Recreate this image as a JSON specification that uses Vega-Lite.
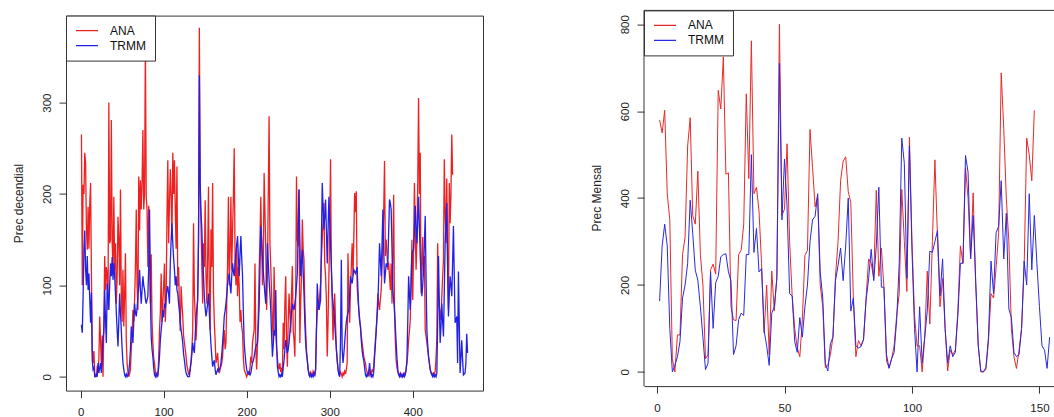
{
"$schema": "https://vega.github.io/schema/vega-lite/v6.json",
"background": "white",
"padding": {"left": 12, "top": 9.6, "right": 0, "bottom": 0},
"spacing": 106,
"config": {
  "font": "Liberation Sans",
  "view": {"stroke": "#333333", "strokeWidth": 1},
  "axis": {"grid": false, "domain": false, "ticks": true, "tickSize": 7, "tickColor": "#333333", "labelFontSize": 11.5, "labelColor": "#222222", "labelFont": "Liberation Sans", "titleFont": "Liberation Sans", "titleFontSize": 12, "titleFontWeight": "normal", "titleColor": "#222222"},
  "axisX": {"labelPadding": 9, "labelBaseline": "top"},
  "axisY": {"labelAngle": 270, "labelAlign": "center", "labelBaseline": "alphabetic", "labelPadding": 8.6, "titleAngle": 270, "titleAlign": "center", "titleBaseline": "alphabetic", "titleX": -43.5},
  "legend": {"orient": "top-left", "offset": 0, "padding": 9, "strokeColor": "#333333", "fillColor": "white", "symbolType": "stroke", "symbolSize": 484, "symbolStrokeWidth": 1.2, "clipHeight": 12, "labelFontSize": 12, "labelOffset": 11, "rowPadding": 3, "labelColor": "#111111", "labelFont": "Liberation Sans", "cornerRadius": 0}
},
"resolve": {"scale": {"color": "independent"}, "legend": {"color": "independent"}},
"datasets": {
"decendial": [
{"i":1,"serie":"ANA","prec":265},{"i":2,"serie":"ANA","prec":100},{"i":3,"serie":"ANA","prec":210},{"i":4,"serie":"ANA","prec":200},{"i":5,"serie":"ANA","prec":245},{"i":6,"serie":"ANA","prec":234},{"i":7,"serie":"ANA","prec":160},{"i":8,"serie":"ANA","prec":139},{"i":9,"serie":"ANA","prec":186},{"i":10,"serie":"ANA","prec":140},
{"i":11,"serie":"ANA","prec":188},{"i":12,"serie":"ANA","prec":212},{"i":13,"serie":"ANA","prec":113},{"i":14,"serie":"ANA","prec":30},{"i":15,"serie":"ANA","prec":15},{"i":16,"serie":"ANA","prec":28},{"i":17,"serie":"ANA","prec":5},{"i":18,"serie":"ANA","prec":0},{"i":19,"serie":"ANA","prec":0},{"i":20,"serie":"ANA","prec":12},
{"i":21,"serie":"ANA","prec":5},{"i":22,"serie":"ANA","prec":20},{"i":23,"serie":"ANA","prec":66},{"i":24,"serie":"ANA","prec":40},{"i":25,"serie":"ANA","prec":10},{"i":26,"serie":"ANA","prec":45},{"i":27,"serie":"ANA","prec":0},{"i":28,"serie":"ANA","prec":60},{"i":29,"serie":"ANA","prec":132},{"i":30,"serie":"ANA","prec":95},
{"i":31,"serie":"ANA","prec":120},{"i":32,"serie":"ANA","prec":113},{"i":33,"serie":"ANA","prec":73},{"i":34,"serie":"ANA","prec":300},{"i":35,"serie":"ANA","prec":146},{"i":36,"serie":"ANA","prec":150},{"i":37,"serie":"ANA","prec":281},{"i":38,"serie":"ANA","prec":146},{"i":39,"serie":"ANA","prec":120},{"i":40,"serie":"ANA","prec":197},
{"i":41,"serie":"ANA","prec":117},{"i":42,"serie":"ANA","prec":146},{"i":43,"serie":"ANA","prec":80},{"i":44,"serie":"ANA","prec":110},{"i":45,"serie":"ANA","prec":175},{"i":46,"serie":"ANA","prec":150},{"i":47,"serie":"ANA","prec":100},{"i":48,"serie":"ANA","prec":205},{"i":49,"serie":"ANA","prec":88},{"i":50,"serie":"ANA","prec":60},
{"i":51,"serie":"ANA","prec":117},{"i":52,"serie":"ANA","prec":55},{"i":53,"serie":"ANA","prec":90},{"i":54,"serie":"ANA","prec":135},{"i":55,"serie":"ANA","prec":40},{"i":56,"serie":"ANA","prec":15},{"i":57,"serie":"ANA","prec":5},{"i":58,"serie":"ANA","prec":0},{"i":59,"serie":"ANA","prec":3},{"i":60,"serie":"ANA","prec":8},
{"i":61,"serie":"ANA","prec":30},{"i":62,"serie":"ANA","prec":45},{"i":63,"serie":"ANA","prec":73},{"i":64,"serie":"ANA","prec":60},{"i":65,"serie":"ANA","prec":84},{"i":66,"serie":"ANA","prec":120},{"i":67,"serie":"ANA","prec":183},{"i":68,"serie":"ANA","prec":100},{"i":69,"serie":"ANA","prec":73},{"i":70,"serie":"ANA","prec":219},
{"i":71,"serie":"ANA","prec":160},{"i":72,"serie":"ANA","prec":215},{"i":73,"serie":"ANA","prec":183},{"i":74,"serie":"ANA","prec":212},{"i":75,"serie":"ANA","prec":270},{"i":76,"serie":"ANA","prec":183},{"i":77,"serie":"ANA","prec":200},{"i":78,"serie":"ANA","prec":365},{"i":79,"serie":"ANA","prec":198},{"i":80,"serie":"ANA","prec":183},
{"i":81,"serie":"ANA","prec":120},{"i":82,"serie":"ANA","prec":187},{"i":83,"serie":"ANA","prec":146},{"i":84,"serie":"ANA","prec":80},{"i":85,"serie":"ANA","prec":134},{"i":86,"serie":"ANA","prec":60},{"i":87,"serie":"ANA","prec":37},{"i":88,"serie":"ANA","prec":20},{"i":89,"serie":"ANA","prec":15},{"i":90,"serie":"ANA","prec":5},
{"i":91,"serie":"ANA","prec":2},{"i":92,"serie":"ANA","prec":4},{"i":93,"serie":"ANA","prec":0},{"i":94,"serie":"ANA","prec":20},{"i":95,"serie":"ANA","prec":51},{"i":96,"serie":"ANA","prec":70},{"i":97,"serie":"ANA","prec":113},{"i":98,"serie":"ANA","prec":60},{"i":99,"serie":"ANA","prec":80},{"i":100,"serie":"ANA","prec":100},
{"i":101,"serie":"ANA","prec":124},{"i":102,"serie":"ANA","prec":60},{"i":103,"serie":"ANA","prec":84},{"i":104,"serie":"ANA","prec":175},{"i":105,"serie":"ANA","prec":237},{"i":106,"serie":"ANA","prec":146},{"i":107,"serie":"ANA","prec":190},{"i":108,"serie":"ANA","prec":227},{"i":109,"serie":"ANA","prec":197},{"i":110,"serie":"ANA","prec":150},
{"i":111,"serie":"ANA","prec":245},{"i":112,"serie":"ANA","prec":200},{"i":113,"serie":"ANA","prec":237},{"i":114,"serie":"ANA","prec":183},{"i":115,"serie":"ANA","prec":140},{"i":116,"serie":"ANA","prec":230},{"i":117,"serie":"ANA","prec":99},{"i":118,"serie":"ANA","prec":120},{"i":119,"serie":"ANA","prec":73},{"i":120,"serie":"ANA","prec":50},
{"i":121,"serie":"ANA","prec":99},{"i":122,"serie":"ANA","prec":80},{"i":123,"serie":"ANA","prec":66},{"i":124,"serie":"ANA","prec":45},{"i":125,"serie":"ANA","prec":37},{"i":126,"serie":"ANA","prec":30},{"i":127,"serie":"ANA","prec":22},{"i":128,"serie":"ANA","prec":12},{"i":129,"serie":"ANA","prec":8},{"i":130,"serie":"ANA","prec":3},
{"i":131,"serie":"ANA","prec":4},{"i":132,"serie":"ANA","prec":10},{"i":133,"serie":"ANA","prec":18},{"i":134,"serie":"ANA","prec":30},{"i":135,"serie":"ANA","prec":51},{"i":136,"serie":"ANA","prec":168},{"i":137,"serie":"ANA","prec":90},{"i":138,"serie":"ANA","prec":66},{"i":139,"serie":"ANA","prec":40},{"i":140,"serie":"ANA","prec":60},
{"i":141,"serie":"ANA","prec":91},{"i":142,"serie":"ANA","prec":150},{"i":143,"serie":"ANA","prec":382},{"i":144,"serie":"ANA","prec":200},{"i":145,"serie":"ANA","prec":165},{"i":146,"serie":"ANA","prec":120},{"i":147,"serie":"ANA","prec":80},{"i":148,"serie":"ANA","prec":146},{"i":149,"serie":"ANA","prec":120},{"i":150,"serie":"ANA","prec":193},
{"i":151,"serie":"ANA","prec":110},{"i":152,"serie":"ANA","prec":80},{"i":153,"serie":"ANA","prec":130},{"i":154,"serie":"ANA","prec":208},{"i":155,"serie":"ANA","prec":90},{"i":156,"serie":"ANA","prec":51},{"i":157,"serie":"ANA","prec":161},{"i":158,"serie":"ANA","prec":120},{"i":159,"serie":"ANA","prec":212},{"i":160,"serie":"ANA","prec":91},
{"i":161,"serie":"ANA","prec":60},{"i":162,"serie":"ANA","prec":40},{"i":163,"serie":"ANA","prec":15},{"i":164,"serie":"ANA","prec":20},{"i":165,"serie":"ANA","prec":26},{"i":166,"serie":"ANA","prec":10},{"i":167,"serie":"ANA","prec":4},{"i":168,"serie":"ANA","prec":8},{"i":169,"serie":"ANA","prec":11},{"i":170,"serie":"ANA","prec":15},
{"i":171,"serie":"ANA","prec":22},{"i":172,"serie":"ANA","prec":40},{"i":173,"serie":"ANA","prec":51},{"i":174,"serie":"ANA","prec":30},{"i":175,"serie":"ANA","prec":37},{"i":176,"serie":"ANA","prec":80},{"i":177,"serie":"ANA","prec":124},{"i":178,"serie":"ANA","prec":197},{"i":179,"serie":"ANA","prec":100},{"i":180,"serie":"ANA","prec":139},
{"i":181,"serie":"ANA","prec":197},{"i":182,"serie":"ANA","prec":117},{"i":183,"serie":"ANA","prec":160},{"i":184,"serie":"ANA","prec":197},{"i":185,"serie":"ANA","prec":250},{"i":186,"serie":"ANA","prec":131},{"i":187,"serie":"ANA","prec":100},{"i":188,"serie":"ANA","prec":146},{"i":189,"serie":"ANA","prec":88},{"i":190,"serie":"ANA","prec":120},
{"i":191,"serie":"ANA","prec":99},{"i":192,"serie":"ANA","prec":60},{"i":193,"serie":"ANA","prec":73},{"i":194,"serie":"ANA","prec":55},{"i":195,"serie":"ANA","prec":48},{"i":196,"serie":"ANA","prec":20},{"i":197,"serie":"ANA","prec":8},{"i":198,"serie":"ANA","prec":5},{"i":199,"serie":"ANA","prec":3},{"i":200,"serie":"ANA","prec":0},
{"i":201,"serie":"ANA","prec":3},{"i":202,"serie":"ANA","prec":5},{"i":203,"serie":"ANA","prec":2},{"i":204,"serie":"ANA","prec":10},{"i":205,"serie":"ANA","prec":22},{"i":206,"serie":"ANA","prec":15},{"i":207,"serie":"ANA","prec":37},{"i":208,"serie":"ANA","prec":45},{"i":209,"serie":"ANA","prec":51},{"i":210,"serie":"ANA","prec":124},
{"i":211,"serie":"ANA","prec":30},{"i":212,"serie":"ANA","prec":8},{"i":213,"serie":"ANA","prec":37},{"i":214,"serie":"ANA","prec":70},{"i":215,"serie":"ANA","prec":117},{"i":216,"serie":"ANA","prec":150},{"i":217,"serie":"ANA","prec":197},{"i":218,"serie":"ANA","prec":146},{"i":219,"serie":"ANA","prec":100},{"i":220,"serie":"ANA","prec":124},
{"i":221,"serie":"ANA","prec":223},{"i":222,"serie":"ANA","prec":180},{"i":223,"serie":"ANA","prec":139},{"i":224,"serie":"ANA","prec":73},{"i":225,"serie":"ANA","prec":113},{"i":226,"serie":"ANA","prec":200},{"i":227,"serie":"ANA","prec":285},{"i":228,"serie":"ANA","prec":146},{"i":229,"serie":"ANA","prec":120},{"i":230,"serie":"ANA","prec":91},
{"i":231,"serie":"ANA","prec":60},{"i":232,"serie":"ANA","prec":37},{"i":233,"serie":"ANA","prec":120},{"i":234,"serie":"ANA","prec":73},{"i":235,"serie":"ANA","prec":50},{"i":236,"serie":"ANA","prec":30},{"i":237,"serie":"ANA","prec":20},{"i":238,"serie":"ANA","prec":11},{"i":239,"serie":"ANA","prec":8},{"i":240,"serie":"ANA","prec":15},
{"i":241,"serie":"ANA","prec":5},{"i":242,"serie":"ANA","prec":10},{"i":243,"serie":"ANA","prec":2},{"i":244,"serie":"ANA","prec":59},{"i":245,"serie":"ANA","prec":30},{"i":246,"serie":"ANA","prec":80},{"i":247,"serie":"ANA","prec":110},{"i":248,"serie":"ANA","prec":40},{"i":249,"serie":"ANA","prec":11},{"i":250,"serie":"ANA","prec":60},
{"i":251,"serie":"ANA","prec":91},{"i":252,"serie":"ANA","prec":70},{"i":253,"serie":"ANA","prec":48},{"i":254,"serie":"ANA","prec":90},{"i":255,"serie":"ANA","prec":121},{"i":256,"serie":"ANA","prec":51},{"i":257,"serie":"ANA","prec":40},{"i":258,"serie":"ANA","prec":22},{"i":259,"serie":"ANA","prec":88},{"i":260,"serie":"ANA","prec":219},
{"i":261,"serie":"ANA","prec":150},{"i":262,"serie":"ANA","prec":143},{"i":263,"serie":"ANA","prec":205},{"i":264,"serie":"ANA","prec":37},{"i":265,"serie":"ANA","prec":80},{"i":266,"serie":"ANA","prec":110},{"i":267,"serie":"ANA","prec":172},{"i":268,"serie":"ANA","prec":140},{"i":269,"serie":"ANA","prec":128},{"i":270,"serie":"ANA","prec":80},
{"i":271,"serie":"ANA","prec":51},{"i":272,"serie":"ANA","prec":30},{"i":273,"serie":"ANA","prec":18},{"i":274,"serie":"ANA","prec":8},{"i":275,"serie":"ANA","prec":4},{"i":276,"serie":"ANA","prec":2},{"i":277,"serie":"ANA","prec":5},{"i":278,"serie":"ANA","prec":3},{"i":279,"serie":"ANA","prec":0},{"i":280,"serie":"ANA","prec":6},
{"i":281,"serie":"ANA","prec":4},{"i":282,"serie":"ANA","prec":2},{"i":283,"serie":"ANA","prec":8},{"i":284,"serie":"ANA","prec":51},{"i":285,"serie":"ANA","prec":70},{"i":286,"serie":"ANA","prec":84},{"i":287,"serie":"ANA","prec":73},{"i":288,"serie":"ANA","prec":90},{"i":289,"serie":"ANA","prec":102},{"i":290,"serie":"ANA","prec":130},
{"i":291,"serie":"ANA","prec":150},{"i":292,"serie":"ANA","prec":170},{"i":293,"serie":"ANA","prec":190},{"i":294,"serie":"ANA","prec":124},{"i":295,"serie":"ANA","prec":110},{"i":296,"serie":"ANA","prec":84},{"i":297,"serie":"ANA","prec":22},{"i":298,"serie":"ANA","prec":60},{"i":299,"serie":"ANA","prec":110},{"i":300,"serie":"ANA","prec":160},
{"i":301,"serie":"ANA","prec":238},{"i":302,"serie":"ANA","prec":117},{"i":303,"serie":"ANA","prec":80},{"i":304,"serie":"ANA","prec":40},{"i":305,"serie":"ANA","prec":70},{"i":306,"serie":"ANA","prec":91},{"i":307,"serie":"ANA","prec":59},{"i":308,"serie":"ANA","prec":30},{"i":309,"serie":"ANA","prec":18},{"i":310,"serie":"ANA","prec":8},
{"i":311,"serie":"ANA","prec":4},{"i":312,"serie":"ANA","prec":2},{"i":313,"serie":"ANA","prec":5},{"i":314,"serie":"ANA","prec":3},{"i":315,"serie":"ANA","prec":0},{"i":316,"serie":"ANA","prec":4},{"i":317,"serie":"ANA","prec":2},{"i":318,"serie":"ANA","prec":6},{"i":319,"serie":"ANA","prec":3},{"i":320,"serie":"ANA","prec":8},
{"i":321,"serie":"ANA","prec":15},{"i":322,"serie":"ANA","prec":135},{"i":323,"serie":"ANA","prec":90},{"i":324,"serie":"ANA","prec":59},{"i":325,"serie":"ANA","prec":95},{"i":326,"serie":"ANA","prec":120},{"i":327,"serie":"ANA","prec":146},{"i":328,"serie":"ANA","prec":110},{"i":329,"serie":"ANA","prec":150},{"i":330,"serie":"ANA","prec":201},
{"i":331,"serie":"ANA","prec":180},{"i":332,"serie":"ANA","prec":203},{"i":333,"serie":"ANA","prec":99},{"i":334,"serie":"ANA","prec":85},{"i":335,"serie":"ANA","prec":73},{"i":336,"serie":"ANA","prec":60},{"i":337,"serie":"ANA","prec":55},{"i":338,"serie":"ANA","prec":45},{"i":339,"serie":"ANA","prec":37},{"i":340,"serie":"ANA","prec":30},
{"i":341,"serie":"ANA","prec":22},{"i":342,"serie":"ANA","prec":18},{"i":343,"serie":"ANA","prec":15},{"i":344,"serie":"ANA","prec":8},{"i":345,"serie":"ANA","prec":5},{"i":346,"serie":"ANA","prec":3},{"i":347,"serie":"ANA","prec":6},{"i":348,"serie":"ANA","prec":2},{"i":349,"serie":"ANA","prec":5},{"i":350,"serie":"ANA","prec":3},
{"i":351,"serie":"ANA","prec":8},{"i":352,"serie":"ANA","prec":5},{"i":353,"serie":"ANA","prec":12},{"i":354,"serie":"ANA","prec":26},{"i":355,"serie":"ANA","prec":40},{"i":356,"serie":"ANA","prec":51},{"i":357,"serie":"ANA","prec":70},{"i":358,"serie":"ANA","prec":91},{"i":359,"serie":"ANA","prec":80},{"i":360,"serie":"ANA","prec":73},
{"i":361,"serie":"ANA","prec":85},{"i":362,"serie":"ANA","prec":95},{"i":363,"serie":"ANA","prec":120},{"i":364,"serie":"ANA","prec":146},{"i":365,"serie":"ANA","prec":180},{"i":366,"serie":"ANA","prec":236},{"i":367,"serie":"ANA","prec":132},{"i":368,"serie":"ANA","prec":150},{"i":369,"serie":"ANA","prec":135},{"i":370,"serie":"ANA","prec":117},
{"i":371,"serie":"ANA","prec":125},{"i":372,"serie":"ANA","prec":110},{"i":373,"serie":"ANA","prec":95},{"i":374,"serie":"ANA","prec":124},{"i":375,"serie":"ANA","prec":80},{"i":376,"serie":"ANA","prec":130},{"i":377,"serie":"ANA","prec":199},{"i":378,"serie":"ANA","prec":73},{"i":379,"serie":"ANA","prec":40},{"i":380,"serie":"ANA","prec":18},
{"i":381,"serie":"ANA","prec":10},{"i":382,"serie":"ANA","prec":5},{"i":383,"serie":"ANA","prec":3},{"i":384,"serie":"ANA","prec":2},{"i":385,"serie":"ANA","prec":4},{"i":386,"serie":"ANA","prec":1},{"i":387,"serie":"ANA","prec":3},{"i":388,"serie":"ANA","prec":0},{"i":389,"serie":"ANA","prec":2},{"i":390,"serie":"ANA","prec":4},
{"i":391,"serie":"ANA","prec":3},{"i":392,"serie":"ANA","prec":8},{"i":393,"serie":"ANA","prec":15},{"i":394,"serie":"ANA","prec":25},{"i":395,"serie":"ANA","prec":40},{"i":396,"serie":"ANA","prec":50},{"i":397,"serie":"ANA","prec":62},{"i":398,"serie":"ANA","prec":100},{"i":399,"serie":"ANA","prec":150},{"i":400,"serie":"ANA","prec":84},
{"i":401,"serie":"ANA","prec":140},{"i":402,"serie":"ANA","prec":212},{"i":403,"serie":"ANA","prec":160},{"i":404,"serie":"ANA","prec":117},{"i":405,"serie":"ANA","prec":150},{"i":406,"serie":"ANA","prec":212},{"i":407,"serie":"ANA","prec":305},{"i":408,"serie":"ANA","prec":200},{"i":409,"serie":"ANA","prec":245},{"i":410,"serie":"ANA","prec":91},
{"i":411,"serie":"ANA","prec":120},{"i":412,"serie":"ANA","prec":153},{"i":413,"serie":"ANA","prec":110},{"i":414,"serie":"ANA","prec":132},{"i":415,"serie":"ANA","prec":51},{"i":416,"serie":"ANA","prec":45},{"i":417,"serie":"ANA","prec":37},{"i":418,"serie":"ANA","prec":30},{"i":419,"serie":"ANA","prec":22},{"i":420,"serie":"ANA","prec":15},
{"i":421,"serie":"ANA","prec":8},{"i":422,"serie":"ANA","prec":5},{"i":423,"serie":"ANA","prec":4},{"i":424,"serie":"ANA","prec":2},{"i":425,"serie":"ANA","prec":4},{"i":426,"serie":"ANA","prec":3},{"i":427,"serie":"ANA","prec":6},{"i":428,"serie":"ANA","prec":20},{"i":429,"serie":"ANA","prec":40},{"i":430,"serie":"ANA","prec":146},
{"i":431,"serie":"ANA","prec":90},{"i":432,"serie":"ANA","prec":77},{"i":433,"serie":"ANA","prec":70},{"i":434,"serie":"ANA","prec":62},{"i":435,"serie":"ANA","prec":88},{"i":436,"serie":"ANA","prec":110},{"i":437,"serie":"ANA","prec":128},{"i":438,"serie":"ANA","prec":238},{"i":439,"serie":"ANA","prec":180},{"i":440,"serie":"ANA","prec":146},
{"i":441,"serie":"ANA","prec":217},{"i":442,"serie":"ANA","prec":120},{"i":443,"serie":"ANA","prec":73},{"i":444,"serie":"ANA","prec":212},{"i":445,"serie":"ANA","prec":168},{"i":446,"serie":"ANA","prec":200},{"i":447,"serie":"ANA","prec":265},{"i":448,"serie":"ANA","prec":221},
{"i":1,"serie":"TRMM","prec":57},{"i":2,"serie":"TRMM","prec":48},{"i":3,"serie":"TRMM","prec":88},{"i":4,"serie":"TRMM","prec":139},{"i":5,"serie":"TRMM","prec":160},{"i":6,"serie":"TRMM","prec":117},{"i":7,"serie":"TRMM","prec":100},{"i":8,"serie":"TRMM","prec":132},{"i":9,"serie":"TRMM","prec":95},{"i":10,"serie":"TRMM","prec":113},
{"i":11,"serie":"TRMM","prec":85},{"i":12,"serie":"TRMM","prec":59},{"i":13,"serie":"TRMM","prec":92},{"i":14,"serie":"TRMM","prec":18},{"i":15,"serie":"TRMM","prec":8},{"i":16,"serie":"TRMM","prec":10},{"i":17,"serie":"TRMM","prec":0},{"i":18,"serie":"TRMM","prec":0},{"i":19,"serie":"TRMM","prec":2},{"i":20,"serie":"TRMM","prec":0},
{"i":21,"serie":"TRMM","prec":15},{"i":22,"serie":"TRMM","prec":4},{"i":23,"serie":"TRMM","prec":10},{"i":24,"serie":"TRMM","prec":15},{"i":25,"serie":"TRMM","prec":4},{"i":26,"serie":"TRMM","prec":22},{"i":27,"serie":"TRMM","prec":40},{"i":28,"serie":"TRMM","prec":51},{"i":29,"serie":"TRMM","prec":95},{"i":30,"serie":"TRMM","prec":60},
{"i":31,"serie":"TRMM","prec":37},{"i":32,"serie":"TRMM","prec":102},{"i":33,"serie":"TRMM","prec":90},{"i":34,"serie":"TRMM","prec":73},{"i":35,"serie":"TRMM","prec":100},{"i":36,"serie":"TRMM","prec":124},{"i":37,"serie":"TRMM","prec":110},{"i":38,"serie":"TRMM","prec":131},{"i":39,"serie":"TRMM","prec":106},{"i":40,"serie":"TRMM","prec":124},
{"i":41,"serie":"TRMM","prec":110},{"i":42,"serie":"TRMM","prec":91},{"i":43,"serie":"TRMM","prec":70},{"i":44,"serie":"TRMM","prec":51},{"i":45,"serie":"TRMM","prec":33},{"i":46,"serie":"TRMM","prec":60},{"i":47,"serie":"TRMM","prec":91},{"i":48,"serie":"TRMM","prec":70},{"i":49,"serie":"TRMM","prec":51},{"i":50,"serie":"TRMM","prec":30},
{"i":51,"serie":"TRMM","prec":15},{"i":52,"serie":"TRMM","prec":8},{"i":53,"serie":"TRMM","prec":2},{"i":54,"serie":"TRMM","prec":0},{"i":55,"serie":"TRMM","prec":3},{"i":56,"serie":"TRMM","prec":0},{"i":57,"serie":"TRMM","prec":2},{"i":58,"serie":"TRMM","prec":5},{"i":59,"serie":"TRMM","prec":15},{"i":60,"serie":"TRMM","prec":30},
{"i":61,"serie":"TRMM","prec":55},{"i":62,"serie":"TRMM","prec":45},{"i":63,"serie":"TRMM","prec":37},{"i":64,"serie":"TRMM","prec":60},{"i":65,"serie":"TRMM","prec":80},{"i":66,"serie":"TRMM","prec":70},{"i":67,"serie":"TRMM","prec":66},{"i":68,"serie":"TRMM","prec":75},{"i":69,"serie":"TRMM","prec":88},{"i":70,"serie":"TRMM","prec":100},
{"i":71,"serie":"TRMM","prec":117},{"i":72,"serie":"TRMM","prec":95},{"i":73,"serie":"TRMM","prec":80},{"i":74,"serie":"TRMM","prec":95},{"i":75,"serie":"TRMM","prec":110},{"i":76,"serie":"TRMM","prec":100},{"i":77,"serie":"TRMM","prec":95},{"i":78,"serie":"TRMM","prec":85},{"i":79,"serie":"TRMM","prec":80},{"i":80,"serie":"TRMM","prec":84},
{"i":81,"serie":"TRMM","prec":88},{"i":82,"serie":"TRMM","prec":120},{"i":83,"serie":"TRMM","prec":183},{"i":84,"serie":"TRMM","prec":90},{"i":85,"serie":"TRMM","prec":44},{"i":86,"serie":"TRMM","prec":30},{"i":87,"serie":"TRMM","prec":22},{"i":88,"serie":"TRMM","prec":10},{"i":89,"serie":"TRMM","prec":2},{"i":90,"serie":"TRMM","prec":0},
{"i":91,"serie":"TRMM","prec":3},{"i":92,"serie":"TRMM","prec":0},{"i":93,"serie":"TRMM","prec":2},{"i":94,"serie":"TRMM","prec":10},{"i":95,"serie":"TRMM","prec":22},{"i":96,"serie":"TRMM","prec":40},{"i":97,"serie":"TRMM","prec":51},{"i":98,"serie":"TRMM","prec":60},{"i":99,"serie":"TRMM","prec":73},{"i":100,"serie":"TRMM","prec":65},
{"i":101,"serie":"TRMM","prec":80},{"i":102,"serie":"TRMM","prec":75},{"i":103,"serie":"TRMM","prec":88},{"i":104,"serie":"TRMM","prec":95},{"i":105,"serie":"TRMM","prec":99},{"i":106,"serie":"TRMM","prec":90},{"i":107,"serie":"TRMM","prec":80},{"i":108,"serie":"TRMM","prec":124},{"i":109,"serie":"TRMM","prec":150},{"i":110,"serie":"TRMM","prec":168},
{"i":111,"serie":"TRMM","prec":146},{"i":112,"serie":"TRMM","prec":130},{"i":113,"serie":"TRMM","prec":117},{"i":114,"serie":"TRMM","prec":100},{"i":115,"serie":"TRMM","prec":110},{"i":116,"serie":"TRMM","prec":95},{"i":117,"serie":"TRMM","prec":91},{"i":118,"serie":"TRMM","prec":80},{"i":119,"serie":"TRMM","prec":73},{"i":120,"serie":"TRMM","prec":60},
{"i":121,"serie":"TRMM","prec":51},{"i":122,"serie":"TRMM","prec":45},{"i":123,"serie":"TRMM","prec":37},{"i":124,"serie":"TRMM","prec":25},{"i":125,"serie":"TRMM","prec":18},{"i":126,"serie":"TRMM","prec":10},{"i":127,"serie":"TRMM","prec":4},{"i":128,"serie":"TRMM","prec":2},{"i":129,"serie":"TRMM","prec":0},{"i":130,"serie":"TRMM","prec":0},
{"i":131,"serie":"TRMM","prec":0},{"i":132,"serie":"TRMM","prec":8},{"i":133,"serie":"TRMM","prec":15},{"i":134,"serie":"TRMM","prec":25},{"i":135,"serie":"TRMM","prec":37},{"i":136,"serie":"TRMM","prec":30},{"i":137,"serie":"TRMM","prec":26},{"i":138,"serie":"TRMM","prec":45},{"i":139,"serie":"TRMM","prec":66},{"i":140,"serie":"TRMM","prec":75},
{"i":141,"serie":"TRMM","prec":84},{"i":142,"serie":"TRMM","prec":150},{"i":143,"serie":"TRMM","prec":330},{"i":144,"serie":"TRMM","prec":212},{"i":145,"serie":"TRMM","prec":180},{"i":146,"serie":"TRMM","prec":161},{"i":147,"serie":"TRMM","prec":130},{"i":148,"serie":"TRMM","prec":110},{"i":149,"serie":"TRMM","prec":88},{"i":150,"serie":"TRMM","prec":75},
{"i":151,"serie":"TRMM","prec":66},{"i":152,"serie":"TRMM","prec":72},{"i":153,"serie":"TRMM","prec":80},{"i":154,"serie":"TRMM","prec":91},{"i":155,"serie":"TRMM","prec":70},{"i":156,"serie":"TRMM","prec":51},{"i":157,"serie":"TRMM","prec":35},{"i":158,"serie":"TRMM","prec":22},{"i":159,"serie":"TRMM","prec":11},{"i":160,"serie":"TRMM","prec":15},
{"i":161,"serie":"TRMM","prec":18},{"i":162,"serie":"TRMM","prec":8},{"i":163,"serie":"TRMM","prec":2},{"i":164,"serie":"TRMM","prec":5},{"i":165,"serie":"TRMM","prec":8},{"i":166,"serie":"TRMM","prec":6},{"i":167,"serie":"TRMM","prec":8},{"i":168,"serie":"TRMM","prec":10},{"i":169,"serie":"TRMM","prec":15},{"i":170,"serie":"TRMM","prec":25},
{"i":171,"serie":"TRMM","prec":37},{"i":172,"serie":"TRMM","prec":50},{"i":173,"serie":"TRMM","prec":66},{"i":174,"serie":"TRMM","prec":72},{"i":175,"serie":"TRMM","prec":80},{"i":176,"serie":"TRMM","prec":90},{"i":177,"serie":"TRMM","prec":102},{"i":178,"serie":"TRMM","prec":108},{"i":179,"serie":"TRMM","prec":113},{"i":180,"serie":"TRMM","prec":100},
{"i":181,"serie":"TRMM","prec":91},{"i":182,"serie":"TRMM","prec":110},{"i":183,"serie":"TRMM","prec":124},{"i":184,"serie":"TRMM","prec":115},{"i":185,"serie":"TRMM","prec":110},{"i":186,"serie":"TRMM","prec":125},{"i":187,"serie":"TRMM","prec":135},{"i":188,"serie":"TRMM","prec":145},{"i":189,"serie":"TRMM","prec":154},{"i":190,"serie":"TRMM","prec":130},
{"i":191,"serie":"TRMM","prec":110},{"i":192,"serie":"TRMM","prec":135},{"i":193,"serie":"TRMM","prec":154},{"i":194,"serie":"TRMM","prec":130},{"i":195,"serie":"TRMM","prec":110},{"i":196,"serie":"TRMM","prec":70},{"i":197,"serie":"TRMM","prec":37},{"i":198,"serie":"TRMM","prec":25},{"i":199,"serie":"TRMM","prec":15},{"i":200,"serie":"TRMM","prec":8},
{"i":201,"serie":"TRMM","prec":4},{"i":202,"serie":"TRMM","prec":3},{"i":203,"serie":"TRMM","prec":5},{"i":204,"serie":"TRMM","prec":2},{"i":205,"serie":"TRMM","prec":4},{"i":206,"serie":"TRMM","prec":10},{"i":207,"serie":"TRMM","prec":15},{"i":208,"serie":"TRMM","prec":18},{"i":209,"serie":"TRMM","prec":22},{"i":210,"serie":"TRMM","prec":28},
{"i":211,"serie":"TRMM","prec":33},{"i":212,"serie":"TRMM","prec":35},{"i":213,"serie":"TRMM","prec":37},{"i":214,"serie":"TRMM","prec":55},{"i":215,"serie":"TRMM","prec":77},{"i":216,"serie":"TRMM","prec":120},{"i":217,"serie":"TRMM","prec":165},{"i":218,"serie":"TRMM","prec":150},{"i":219,"serie":"TRMM","prec":132},{"i":220,"serie":"TRMM","prec":115},
{"i":221,"serie":"TRMM","prec":102},{"i":222,"serie":"TRMM","prec":90},{"i":223,"serie":"TRMM","prec":80},{"i":224,"serie":"TRMM","prec":110},{"i":225,"serie":"TRMM","prec":146},{"i":226,"serie":"TRMM","prec":125},{"i":227,"serie":"TRMM","prec":106},{"i":228,"serie":"TRMM","prec":90},{"i":229,"serie":"TRMM","prec":73},{"i":230,"serie":"TRMM","prec":45},
{"i":231,"serie":"TRMM","prec":22},{"i":232,"serie":"TRMM","prec":35},{"i":233,"serie":"TRMM","prec":51},{"i":234,"serie":"TRMM","prec":45},{"i":235,"serie":"TRMM","prec":95},{"i":236,"serie":"TRMM","prec":37},{"i":237,"serie":"TRMM","prec":11},{"i":238,"serie":"TRMM","prec":5},{"i":239,"serie":"TRMM","prec":0},{"i":240,"serie":"TRMM","prec":2},
{"i":241,"serie":"TRMM","prec":0},{"i":242,"serie":"TRMM","prec":3},{"i":243,"serie":"TRMM","prec":0},{"i":244,"serie":"TRMM","prec":10},{"i":245,"serie":"TRMM","prec":18},{"i":246,"serie":"TRMM","prec":30},{"i":247,"serie":"TRMM","prec":40},{"i":248,"serie":"TRMM","prec":33},{"i":249,"serie":"TRMM","prec":26},{"i":250,"serie":"TRMM","prec":30},
{"i":251,"serie":"TRMM","prec":37},{"i":252,"serie":"TRMM","prec":48},{"i":253,"serie":"TRMM","prec":59},{"i":254,"serie":"TRMM","prec":70},{"i":255,"serie":"TRMM","prec":80},{"i":256,"serie":"TRMM","prec":76},{"i":257,"serie":"TRMM","prec":73},{"i":258,"serie":"TRMM","prec":80},{"i":259,"serie":"TRMM","prec":88},{"i":260,"serie":"TRMM","prec":100},
{"i":261,"serie":"TRMM","prec":113},{"i":262,"serie":"TRMM","prec":160},{"i":263,"serie":"TRMM","prec":205},{"i":264,"serie":"TRMM","prec":150},{"i":265,"serie":"TRMM","prec":110},{"i":266,"serie":"TRMM","prec":125},{"i":267,"serie":"TRMM","prec":139},{"i":268,"serie":"TRMM","prec":115},{"i":269,"serie":"TRMM","prec":91},{"i":270,"serie":"TRMM","prec":60},
{"i":271,"serie":"TRMM","prec":37},{"i":272,"serie":"TRMM","prec":25},{"i":273,"serie":"TRMM","prec":18},{"i":274,"serie":"TRMM","prec":8},{"i":275,"serie":"TRMM","prec":2},{"i":276,"serie":"TRMM","prec":0},{"i":277,"serie":"TRMM","prec":3},{"i":278,"serie":"TRMM","prec":0},{"i":279,"serie":"TRMM","prec":2},{"i":280,"serie":"TRMM","prec":0},
{"i":281,"serie":"TRMM","prec":4},{"i":282,"serie":"TRMM","prec":2},{"i":283,"serie":"TRMM","prec":8},{"i":284,"serie":"TRMM","prec":50},{"i":285,"serie":"TRMM","prec":102},{"i":286,"serie":"TRMM","prec":85},{"i":287,"serie":"TRMM","prec":73},{"i":288,"serie":"TRMM","prec":78},{"i":289,"serie":"TRMM","prec":84},{"i":290,"serie":"TRMM","prec":150},
{"i":291,"serie":"TRMM","prec":212},{"i":292,"serie":"TRMM","prec":185},{"i":293,"serie":"TRMM","prec":161},{"i":294,"serie":"TRMM","prec":175},{"i":295,"serie":"TRMM","prec":194},{"i":296,"serie":"TRMM","prec":160},{"i":297,"serie":"TRMM","prec":124},{"i":298,"serie":"TRMM","prec":160},{"i":299,"serie":"TRMM","prec":197},{"i":300,"serie":"TRMM","prec":170},
{"i":301,"serie":"TRMM","prec":146},{"i":302,"serie":"TRMM","prec":120},{"i":303,"serie":"TRMM","prec":91},{"i":304,"serie":"TRMM","prec":80},{"i":305,"serie":"TRMM","prec":73},{"i":306,"serie":"TRMM","prec":58},{"i":307,"serie":"TRMM","prec":44},{"i":308,"serie":"TRMM","prec":30},{"i":309,"serie":"TRMM","prec":18},{"i":310,"serie":"TRMM","prec":8},
{"i":311,"serie":"TRMM","prec":2},{"i":312,"serie":"TRMM","prec":0},{"i":313,"serie":"TRMM","prec":40},{"i":314,"serie":"TRMM","prec":128},{"i":315,"serie":"TRMM","prec":30},{"i":316,"serie":"TRMM","prec":15},{"i":317,"serie":"TRMM","prec":25},{"i":318,"serie":"TRMM","prec":37},{"i":319,"serie":"TRMM","prec":50},{"i":320,"serie":"TRMM","prec":60},
{"i":321,"serie":"TRMM","prec":66},{"i":322,"serie":"TRMM","prec":70},{"i":323,"serie":"TRMM","prec":73},{"i":324,"serie":"TRMM","prec":90},{"i":325,"serie":"TRMM","prec":110},{"i":326,"serie":"TRMM","prec":105},{"i":327,"serie":"TRMM","prec":102},{"i":328,"serie":"TRMM","prec":110},{"i":329,"serie":"TRMM","prec":117},{"i":330,"serie":"TRMM","prec":115},
{"i":331,"serie":"TRMM","prec":113},{"i":332,"serie":"TRMM","prec":116},{"i":333,"serie":"TRMM","prec":120},{"i":334,"serie":"TRMM","prec":95},{"i":335,"serie":"TRMM","prec":73},{"i":336,"serie":"TRMM","prec":64},{"i":337,"serie":"TRMM","prec":55},{"i":338,"serie":"TRMM","prec":40},{"i":339,"serie":"TRMM","prec":29},{"i":340,"serie":"TRMM","prec":22},
{"i":341,"serie":"TRMM","prec":18},{"i":342,"serie":"TRMM","prec":10},{"i":343,"serie":"TRMM","prec":2},{"i":344,"serie":"TRMM","prec":0},{"i":345,"serie":"TRMM","prec":3},{"i":346,"serie":"TRMM","prec":0},{"i":347,"serie":"TRMM","prec":5},{"i":348,"serie":"TRMM","prec":15},{"i":349,"serie":"TRMM","prec":4},{"i":350,"serie":"TRMM","prec":0},
{"i":351,"serie":"TRMM","prec":2},{"i":352,"serie":"TRMM","prec":0},{"i":353,"serie":"TRMM","prec":5},{"i":354,"serie":"TRMM","prec":22},{"i":355,"serie":"TRMM","prec":35},{"i":356,"serie":"TRMM","prec":51},{"i":357,"serie":"TRMM","prec":65},{"i":358,"serie":"TRMM","prec":80},{"i":359,"serie":"TRMM","prec":110},{"i":360,"serie":"TRMM","prec":146},
{"i":361,"serie":"TRMM","prec":128},{"i":362,"serie":"TRMM","prec":110},{"i":363,"serie":"TRMM","prec":145},{"i":364,"serie":"TRMM","prec":183},{"i":365,"serie":"TRMM","prec":140},{"i":366,"serie":"TRMM","prec":102},{"i":367,"serie":"TRMM","prec":113},{"i":368,"serie":"TRMM","prec":124},{"i":369,"serie":"TRMM","prec":120},{"i":370,"serie":"TRMM","prec":124},
{"i":371,"serie":"TRMM","prec":160},{"i":372,"serie":"TRMM","prec":194},{"i":373,"serie":"TRMM","prec":190},{"i":374,"serie":"TRMM","prec":183},{"i":375,"serie":"TRMM","prec":140},{"i":376,"serie":"TRMM","prec":95},{"i":377,"serie":"TRMM","prec":84},{"i":378,"serie":"TRMM","prec":73},{"i":379,"serie":"TRMM","prec":55},{"i":380,"serie":"TRMM","prec":37},
{"i":381,"serie":"TRMM","prec":20},{"i":382,"serie":"TRMM","prec":8},{"i":383,"serie":"TRMM","prec":2},{"i":384,"serie":"TRMM","prec":0},{"i":385,"serie":"TRMM","prec":3},{"i":386,"serie":"TRMM","prec":0},{"i":387,"serie":"TRMM","prec":2},{"i":388,"serie":"TRMM","prec":0},{"i":389,"serie":"TRMM","prec":3},{"i":390,"serie":"TRMM","prec":0},
{"i":391,"serie":"TRMM","prec":2},{"i":392,"serie":"TRMM","prec":8},{"i":393,"serie":"TRMM","prec":18},{"i":394,"serie":"TRMM","prec":60},{"i":395,"serie":"TRMM","prec":110},{"i":396,"serie":"TRMM","prec":90},{"i":397,"serie":"TRMM","prec":73},{"i":398,"serie":"TRMM","prec":105},{"i":399,"serie":"TRMM","prec":135},{"i":400,"serie":"TRMM","prec":137},
{"i":401,"serie":"TRMM","prec":139},{"i":402,"serie":"TRMM","prec":160},{"i":403,"serie":"TRMM","prec":187},{"i":404,"serie":"TRMM","prec":165},{"i":405,"serie":"TRMM","prec":146},{"i":406,"serie":"TRMM","prec":170},{"i":407,"serie":"TRMM","prec":197},{"i":408,"serie":"TRMM","prec":165},{"i":409,"serie":"TRMM","prec":132},{"i":410,"serie":"TRMM","prec":110},
{"i":411,"serie":"TRMM","prec":88},{"i":412,"serie":"TRMM","prec":100},{"i":413,"serie":"TRMM","prec":117},{"i":414,"serie":"TRMM","prec":145},{"i":415,"serie":"TRMM","prec":176},{"i":416,"serie":"TRMM","prec":110},{"i":417,"serie":"TRMM","prec":51},{"i":418,"serie":"TRMM","prec":35},{"i":419,"serie":"TRMM","prec":22},{"i":420,"serie":"TRMM","prec":15},
{"i":421,"serie":"TRMM","prec":8},{"i":422,"serie":"TRMM","prec":4},{"i":423,"serie":"TRMM","prec":2},{"i":424,"serie":"TRMM","prec":0},{"i":425,"serie":"TRMM","prec":3},{"i":426,"serie":"TRMM","prec":0},{"i":427,"serie":"TRMM","prec":2},{"i":428,"serie":"TRMM","prec":0},{"i":429,"serie":"TRMM","prec":4},{"i":430,"serie":"TRMM","prec":60},
{"i":431,"serie":"TRMM","prec":132},{"i":432,"serie":"TRMM","prec":80},{"i":433,"serie":"TRMM","prec":37},{"i":434,"serie":"TRMM","prec":55},{"i":435,"serie":"TRMM","prec":80},{"i":436,"serie":"TRMM","prec":60},{"i":437,"serie":"TRMM","prec":44},{"i":438,"serie":"TRMM","prec":95},{"i":439,"serie":"TRMM","prec":146},{"i":440,"serie":"TRMM","prec":170},
{"i":441,"serie":"TRMM","prec":190},{"i":442,"serie":"TRMM","prec":120},{"i":443,"serie":"TRMM","prec":66},{"i":444,"serie":"TRMM","prec":90},{"i":445,"serie":"TRMM","prec":110},{"i":446,"serie":"TRMM","prec":100},{"i":447,"serie":"TRMM","prec":88},{"i":448,"serie":"TRMM","prec":125},{"i":449,"serie":"TRMM","prec":165},{"i":450,"serie":"TRMM","prec":110},
{"i":451,"serie":"TRMM","prec":59},{"i":452,"serie":"TRMM","prec":62},{"i":453,"serie":"TRMM","prec":66},{"i":454,"serie":"TRMM","prec":15},{"i":455,"serie":"TRMM","prec":115},{"i":456,"serie":"TRMM","prec":60},{"i":457,"serie":"TRMM","prec":4},{"i":458,"serie":"TRMM","prec":20},{"i":459,"serie":"TRMM","prec":40},{"i":460,"serie":"TRMM","prec":20},
{"i":461,"serie":"TRMM","prec":2},{"i":462,"serie":"TRMM","prec":3},{"i":463,"serie":"TRMM","prec":4},{"i":464,"serie":"TRMM","prec":15},{"i":465,"serie":"TRMM","prec":47},{"i":466,"serie":"TRMM","prec":26}
],
"mensal": [
{"i":1,"serie":"ANA","prec":580},{"i":2,"serie":"ANA","prec":550},{"i":3,"serie":"ANA","prec":602},{"i":4,"serie":"ANA","prec":410},{"i":5,"serie":"ANA","prec":350},{"i":6,"serie":"ANA","prec":30},{"i":7,"serie":"ANA","prec":0},{"i":8,"serie":"ANA","prec":85},{"i":9,"serie":"ANA","prec":85},{"i":10,"serie":"ANA","prec":270},
{"i":11,"serie":"ANA","prec":310},{"i":12,"serie":"ANA","prec":520},{"i":13,"serie":"ANA","prec":585},{"i":14,"serie":"ANA","prec":360},{"i":15,"serie":"ANA","prec":340},{"i":16,"serie":"ANA","prec":462},{"i":17,"serie":"ANA","prec":270},{"i":18,"serie":"ANA","prec":200},{"i":19,"serie":"ANA","prec":30},{"i":20,"serie":"ANA","prec":40},
{"i":21,"serie":"ANA","prec":235},{"i":22,"serie":"ANA","prec":248},{"i":23,"serie":"ANA","prec":225},{"i":24,"serie":"ANA","prec":648},{"i":25,"serie":"ANA","prec":605},{"i":26,"serie":"ANA","prec":725},{"i":27,"serie":"ANA","prec":455},{"i":28,"serie":"ANA","prec":458},{"i":29,"serie":"ANA","prec":150},{"i":30,"serie":"ANA","prec":120},
{"i":31,"serie":"ANA","prec":118},{"i":32,"serie":"ANA","prec":270},{"i":33,"serie":"ANA","prec":280},{"i":34,"serie":"ANA","prec":340},{"i":35,"serie":"ANA","prec":640},{"i":36,"serie":"ANA","prec":445},{"i":37,"serie":"ANA","prec":762},{"i":38,"serie":"ANA","prec":410},{"i":39,"serie":"ANA","prec":425},{"i":40,"serie":"ANA","prec":370},
{"i":41,"serie":"ANA","prec":250},{"i":42,"serie":"ANA","prec":90},{"i":43,"serie":"ANA","prec":200},{"i":44,"serie":"ANA","prec":40},{"i":45,"serie":"ANA","prec":232},{"i":46,"serie":"ANA","prec":140},{"i":47,"serie":"ANA","prec":220},{"i":48,"serie":"ANA","prec":800},{"i":49,"serie":"ANA","prec":360},{"i":50,"serie":"ANA","prec":375},
{"i":51,"serie":"ANA","prec":525},{"i":52,"serie":"ANA","prec":300},{"i":53,"serie":"ANA","prec":175},{"i":54,"serie":"ANA","prec":100},{"i":55,"serie":"ANA","prec":55},{"i":56,"serie":"ANA","prec":35},{"i":57,"serie":"ANA","prec":120},{"i":58,"serie":"ANA","prec":268},{"i":59,"serie":"ANA","prec":280},{"i":60,"serie":"ANA","prec":558},
{"i":61,"serie":"ANA","prec":470},{"i":62,"serie":"ANA","prec":380},{"i":63,"serie":"ANA","prec":405},{"i":64,"serie":"ANA","prec":200},{"i":65,"serie":"ANA","prec":150},{"i":66,"serie":"ANA","prec":10},{"i":67,"serie":"ANA","prec":15},{"i":68,"serie":"ANA","prec":40},{"i":69,"serie":"ANA","prec":80},{"i":70,"serie":"ANA","prec":220},
{"i":71,"serie":"ANA","prec":300},{"i":72,"serie":"ANA","prec":440},{"i":73,"serie":"ANA","prec":485},{"i":74,"serie":"ANA","prec":495},{"i":75,"serie":"ANA","prec":415},{"i":76,"serie":"ANA","prec":390},{"i":77,"serie":"ANA","prec":170},{"i":78,"serie":"ANA","prec":35},{"i":79,"serie":"ANA","prec":72},{"i":80,"serie":"ANA","prec":60},
{"i":81,"serie":"ANA","prec":75},{"i":82,"serie":"ANA","prec":170},{"i":83,"serie":"ANA","prec":260},{"i":84,"serie":"ANA","prec":250},{"i":85,"serie":"ANA","prec":215},{"i":86,"serie":"ANA","prec":418},{"i":87,"serie":"ANA","prec":220},{"i":88,"serie":"ANA","prec":285},{"i":89,"serie":"ANA","prec":195},{"i":90,"serie":"ANA","prec":25},
{"i":91,"serie":"ANA","prec":10},{"i":92,"serie":"ANA","prec":30},{"i":93,"serie":"ANA","prec":60},{"i":94,"serie":"ANA","prec":130},{"i":95,"serie":"ANA","prec":180},{"i":96,"serie":"ANA","prec":420},{"i":97,"serie":"ANA","prec":300},{"i":98,"serie":"ANA","prec":185},{"i":99,"serie":"ANA","prec":540},{"i":100,"serie":"ANA","prec":300},
{"i":101,"serie":"ANA","prec":130},{"i":102,"serie":"ANA","prec":60},{"i":103,"serie":"ANA","prec":60},{"i":104,"serie":"ANA","prec":0},{"i":105,"serie":"ANA","prec":80},{"i":106,"serie":"ANA","prec":232},{"i":107,"serie":"ANA","prec":110},{"i":108,"serie":"ANA","prec":300},{"i":109,"serie":"ANA","prec":488},{"i":110,"serie":"ANA","prec":310},
{"i":111,"serie":"ANA","prec":150},{"i":112,"serie":"ANA","prec":215},{"i":113,"serie":"ANA","prec":100},{"i":114,"serie":"ANA","prec":2},{"i":115,"serie":"ANA","prec":50},{"i":116,"serie":"ANA","prec":40},{"i":117,"serie":"ANA","prec":50},{"i":118,"serie":"ANA","prec":140},{"i":119,"serie":"ANA","prec":290},{"i":120,"serie":"ANA","prec":250},
{"i":121,"serie":"ANA","prec":470},{"i":122,"serie":"ANA","prec":400},{"i":123,"serie":"ANA","prec":260},{"i":124,"serie":"ANA","prec":412},{"i":125,"serie":"ANA","prec":200},{"i":126,"serie":"ANA","prec":60},{"i":127,"serie":"ANA","prec":0},{"i":128,"serie":"ANA","prec":0},{"i":129,"serie":"ANA","prec":5},{"i":130,"serie":"ANA","prec":70},
{"i":131,"serie":"ANA","prec":180},{"i":132,"serie":"ANA","prec":170},{"i":133,"serie":"ANA","prec":240},{"i":134,"serie":"ANA","prec":320},{"i":135,"serie":"ANA","prec":688},{"i":136,"serie":"ANA","prec":560},{"i":137,"serie":"ANA","prec":400},{"i":138,"serie":"ANA","prec":300},{"i":139,"serie":"ANA","prec":100},{"i":140,"serie":"ANA","prec":35},
{"i":141,"serie":"ANA","prec":8},{"i":142,"serie":"ANA","prec":50},{"i":143,"serie":"ANA","prec":100},{"i":144,"serie":"ANA","prec":240},{"i":145,"serie":"ANA","prec":538},{"i":146,"serie":"ANA","prec":500},{"i":147,"serie":"ANA","prec":440},{"i":148,"serie":"ANA","prec":602},
{"i":1,"serie":"TRMM","prec":163},{"i":2,"serie":"TRMM","prec":290},{"i":3,"serie":"TRMM","prec":340},{"i":4,"serie":"TRMM","prec":290},{"i":5,"serie":"TRMM","prec":100},{"i":6,"serie":"TRMM","prec":0},{"i":7,"serie":"TRMM","prec":15},{"i":8,"serie":"TRMM","prec":35},{"i":9,"serie":"TRMM","prec":70},{"i":10,"serie":"TRMM","prec":170},
{"i":11,"serie":"TRMM","prec":200},{"i":12,"serie":"TRMM","prec":250},{"i":13,"serie":"TRMM","prec":395},{"i":14,"serie":"TRMM","prec":318},{"i":15,"serie":"TRMM","prec":234},{"i":16,"serie":"TRMM","prec":211},{"i":17,"serie":"TRMM","prec":150},{"i":18,"serie":"TRMM","prec":80},{"i":19,"serie":"TRMM","prec":5},{"i":20,"serie":"TRMM","prec":20},
{"i":21,"serie":"TRMM","prec":230},{"i":22,"serie":"TRMM","prec":100},{"i":23,"serie":"TRMM","prec":205},{"i":24,"serie":"TRMM","prec":220},{"i":25,"serie":"TRMM","prec":265},{"i":26,"serie":"TRMM","prec":270},{"i":27,"serie":"TRMM","prec":272},{"i":28,"serie":"TRMM","prec":230},{"i":29,"serie":"TRMM","prec":210},{"i":30,"serie":"TRMM","prec":40},
{"i":31,"serie":"TRMM","prec":60},{"i":32,"serie":"TRMM","prec":120},{"i":33,"serie":"TRMM","prec":135},{"i":34,"serie":"TRMM","prec":130},{"i":35,"serie":"TRMM","prec":270},{"i":36,"serie":"TRMM","prec":270},{"i":37,"serie":"TRMM","prec":500},{"i":38,"serie":"TRMM","prec":275},{"i":39,"serie":"TRMM","prec":330},{"i":40,"serie":"TRMM","prec":230},
{"i":41,"serie":"TRMM","prec":238},{"i":42,"serie":"TRMM","prec":95},{"i":43,"serie":"TRMM","prec":60},{"i":44,"serie":"TRMM","prec":15},{"i":45,"serie":"TRMM","prec":135},{"i":46,"serie":"TRMM","prec":150},{"i":47,"serie":"TRMM","prec":215},{"i":48,"serie":"TRMM","prec":710},{"i":49,"serie":"TRMM","prec":350},{"i":50,"serie":"TRMM","prec":490},
{"i":51,"serie":"TRMM","prec":380},{"i":52,"serie":"TRMM","prec":180},{"i":53,"serie":"TRMM","prec":175},{"i":54,"serie":"TRMM","prec":70},{"i":55,"serie":"TRMM","prec":45},{"i":56,"serie":"TRMM","prec":125},{"i":57,"serie":"TRMM","prec":80},{"i":58,"serie":"TRMM","prec":150},{"i":59,"serie":"TRMM","prec":200},{"i":60,"serie":"TRMM","prec":300},
{"i":61,"serie":"TRMM","prec":350},{"i":62,"serie":"TRMM","prec":358},{"i":63,"serie":"TRMM","prec":410},{"i":64,"serie":"TRMM","prec":230},{"i":65,"serie":"TRMM","prec":170},{"i":66,"serie":"TRMM","prec":20},{"i":67,"serie":"TRMM","prec":2},{"i":68,"serie":"TRMM","prec":65},{"i":69,"serie":"TRMM","prec":80},{"i":70,"serie":"TRMM","prec":210},
{"i":71,"serie":"TRMM","prec":245},{"i":72,"serie":"TRMM","prec":285},{"i":73,"serie":"TRMM","prec":210},{"i":74,"serie":"TRMM","prec":290},{"i":75,"serie":"TRMM","prec":400},{"i":76,"serie":"TRMM","prec":140},{"i":77,"serie":"TRMM","prec":170},{"i":78,"serie":"TRMM","prec":60},{"i":79,"serie":"TRMM","prec":55},{"i":80,"serie":"TRMM","prec":58},
{"i":81,"serie":"TRMM","prec":75},{"i":82,"serie":"TRMM","prec":165},{"i":83,"serie":"TRMM","prec":215},{"i":84,"serie":"TRMM","prec":282},{"i":85,"serie":"TRMM","prec":210},{"i":86,"serie":"TRMM","prec":290},{"i":87,"serie":"TRMM","prec":425},{"i":88,"serie":"TRMM","prec":195},{"i":89,"serie":"TRMM","prec":195},{"i":90,"serie":"TRMM","prec":40},
{"i":91,"serie":"TRMM","prec":8},{"i":92,"serie":"TRMM","prec":30},{"i":93,"serie":"TRMM","prec":45},{"i":94,"serie":"TRMM","prec":120},{"i":95,"serie":"TRMM","prec":250},{"i":96,"serie":"TRMM","prec":538},{"i":97,"serie":"TRMM","prec":480},{"i":98,"serie":"TRMM","prec":215},{"i":99,"serie":"TRMM","prec":520},{"i":100,"serie":"TRMM","prec":280},
{"i":101,"serie":"TRMM","prec":100},{"i":102,"serie":"TRMM","prec":0},{"i":103,"serie":"TRMM","prec":150},{"i":104,"serie":"TRMM","prec":20},{"i":105,"serie":"TRMM","prec":80},{"i":106,"serie":"TRMM","prec":140},{"i":107,"serie":"TRMM","prec":278},{"i":108,"serie":"TRMM","prec":275},{"i":109,"serie":"TRMM","prec":300},{"i":110,"serie":"TRMM","prec":325},
{"i":111,"serie":"TRMM","prec":175},{"i":112,"serie":"TRMM","prec":260},{"i":113,"serie":"TRMM","prec":100},{"i":114,"serie":"TRMM","prec":20},{"i":115,"serie":"TRMM","prec":60},{"i":116,"serie":"TRMM","prec":35},{"i":117,"serie":"TRMM","prec":45},{"i":118,"serie":"TRMM","prec":130},{"i":119,"serie":"TRMM","prec":250},{"i":120,"serie":"TRMM","prec":250},
{"i":121,"serie":"TRMM","prec":498},{"i":122,"serie":"TRMM","prec":460},{"i":123,"serie":"TRMM","prec":260},{"i":124,"serie":"TRMM","prec":360},{"i":125,"serie":"TRMM","prec":210},{"i":126,"serie":"TRMM","prec":60},{"i":127,"serie":"TRMM","prec":2},{"i":128,"serie":"TRMM","prec":0},{"i":129,"serie":"TRMM","prec":10},{"i":130,"serie":"TRMM","prec":80},
{"i":131,"serie":"TRMM","prec":255},{"i":132,"serie":"TRMM","prec":180},{"i":133,"serie":"TRMM","prec":320},{"i":134,"serie":"TRMM","prec":335},{"i":135,"serie":"TRMM","prec":440},{"i":136,"serie":"TRMM","prec":260},{"i":137,"serie":"TRMM","prec":365},{"i":138,"serie":"TRMM","prec":145},{"i":139,"serie":"TRMM","prec":125},{"i":140,"serie":"TRMM","prec":45},
{"i":141,"serie":"TRMM","prec":35},{"i":142,"serie":"TRMM","prec":40},{"i":143,"serie":"TRMM","prec":100},{"i":144,"serie":"TRMM","prec":255},{"i":145,"serie":"TRMM","prec":200},{"i":146,"serie":"TRMM","prec":410},{"i":147,"serie":"TRMM","prec":235},{"i":148,"serie":"TRMM","prec":360},{"i":149,"serie":"TRMM","prec":250},{"i":150,"serie":"TRMM","prec":150},
{"i":151,"serie":"TRMM","prec":60},{"i":152,"serie":"TRMM","prec":50},{"i":153,"serie":"TRMM","prec":8},{"i":154,"serie":"TRMM","prec":80}
]
},
"hconcat": [
{
  "width": 417, "height": 375,
  "data": {"name": "decendial"},
  "mark": {"type": "line", "strokeWidth": 1.3},
  "encoding": {
    "x": {"field": "i", "type": "quantitative", "scale": {"domain": [-17.6, 484.6], "nice": false, "zero": false}, "axis": {"values": [0, 100, 200, 300, 400], "title": null}},
    "y": {"field": "prec", "type": "quantitative", "scale": {"domain": [-15.2, 395.2], "nice": false, "zero": false}, "axis": {"values": [0, 100, 200, 300], "title": "Prec decendial", "titleY": 187.5}},
    "color": {"field": "serie", "type": "nominal", "scale": {"domain": ["ANA", "TRMM"], "range": ["#ee2020", "#2020e6"]}, "legend": {"title": null}}
  }
},
{
  "width": 411, "height": 370.5,
  "view": {"stroke": null},
  "data": {"name": "mensal"},
  "layer": [
    {
      "mark": {"type": "line", "strokeWidth": 1},
      "encoding": {
        "x": {"field": "i", "type": "quantitative", "scale": {"domain": [-5.12, 156.1], "nice": false, "zero": false}, "axis": {"values": [0, 50, 100, 150], "title": null, "domain": true, "domainColor": "#333333"}},
        "y": {"field": "prec", "type": "quantitative", "scale": {"domain": [-32.7, 820], "nice": false, "zero": false}, "axis": {"values": [0, 200, 400, 600, 800], "title": "Prec Mensal", "titleY": 182}},
        "color": {"field": "serie", "type": "nominal", "scale": {"domain": ["ANA", "TRMM"], "range": ["#e82828", "#2828e0"]}, "legend": {"title": null, "orient": "none", "legendX": 0, "legendY": -5.2}}
      }
    },
    {
      "data": {"values": [{}]},
      "mark": {"type": "rule", "color": "#333333", "strokeWidth": 1},
      "encoding": {"y": {"datum": 832}}
    },
    {
      "data": {"values": [{}]},
      "mark": {"type": "rule", "color": "#333333", "strokeWidth": 1},
      "encoding": {"x": {"datum": -5.12}, "y": {"datum": -32.7}, "y2": {"datum": 832}}
    }
  ]
}
]
}
